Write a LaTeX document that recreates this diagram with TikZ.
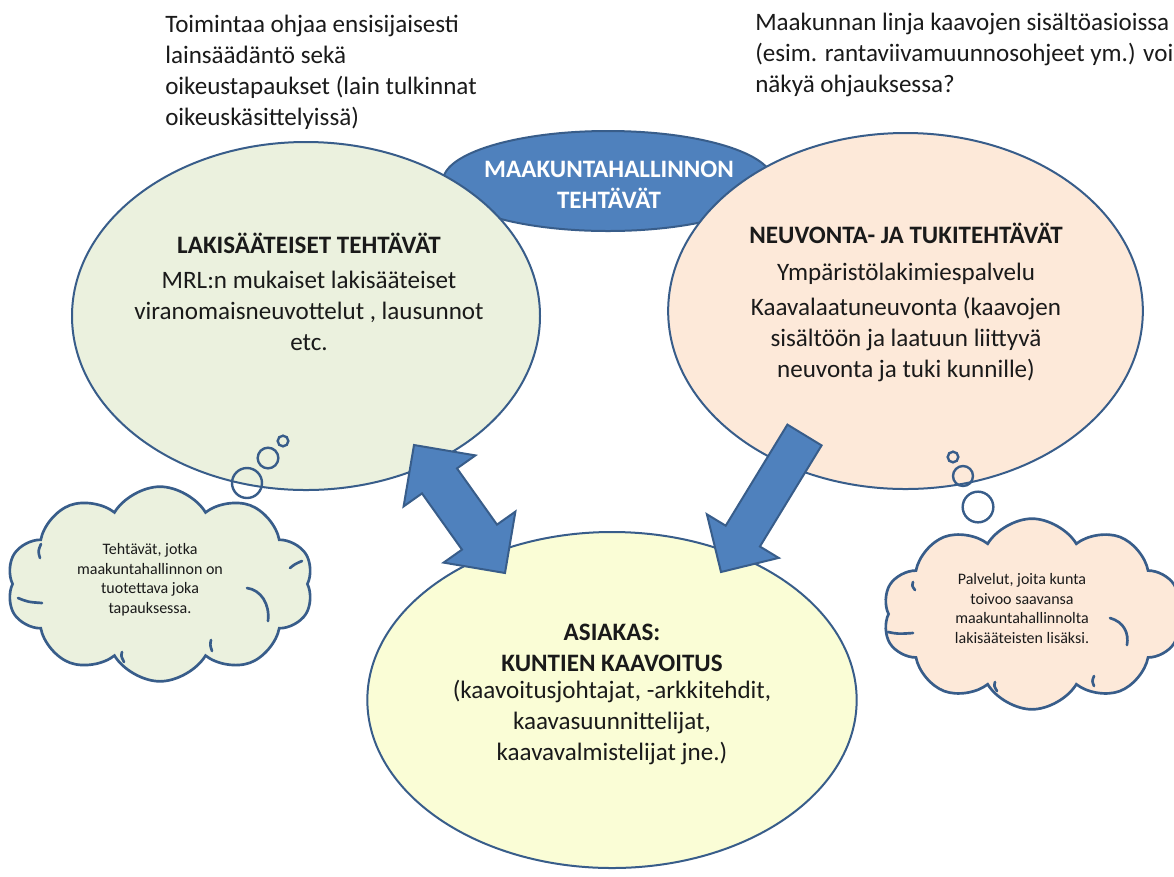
\documentclass[tikz,border=0pt]{standalone}
\usepackage{fontspec}
\setmainfont{Carlito}
\usetikzlibrary{shapes.geometric,shapes.symbols}
\definecolor{edge}{HTML}{385D8A}
\definecolor{blueF}{HTML}{4F81BD}
\definecolor{greenF}{HTML}{EBF1DE}
\definecolor{peachF}{HTML}{FDE9D9}
\definecolor{yellowF}{HTML}{FAFDD6}
\definecolor{ink}{HTML}{1A1A1A}
\begin{document}
\begin{tikzpicture}[x=0.75pt,y=-0.75pt,
  oval/.style={ellipse, draw=edge, line width=1.5pt, inner sep=0pt},
  thought/.style={cloud, cloud puffs=10, cloud puff arc=118, draw=edge, line width=2pt, inner sep=0pt},
  cloudarc/.style={draw=edge, line width=2pt, line cap=round},
  bubble/.style={circle, draw=edge, line width=1.8pt, inner sep=0pt},
  blockarrow/.style={fill=blueF, draw=edge, line width=1.5pt, line join=miter},
  big/.style={font=\fontsize{18.8}{23.2}\selectfont, text=ink, inner sep=0pt},
  bigc/.style={big, align=center, anchor=base},
  bigl/.style={big, align=left, anchor=base west},
  small/.style={font=\fontsize{12}{14.6}\selectfont, text=ink, inner sep=0pt, align=center, anchor=base}]
\clip (0,0) rectangle (1174,876);
\fill[white] (0,0) rectangle (1174,876);

% ellipses
\node[oval, fill=blueF, minimum width=247.5pt, minimum height=75pt] (top) at (608,181) {};
\node[oval, fill=greenF, minimum width=351pt, minimum height=261pt] (law) at (306,316) {};
\node[oval, fill=peachF, minimum width=356pt, minimum height=267pt] (adv) at (905.5,311) {};
\node[oval, fill=yellowF, minimum width=367pt, minimum height=252pt] (client) at (612,700) {};

% thought clouds
\node[thought, fill=greenF, minimum width=230pt, minimum height=146pt, aspect=1.7] (cl) at (160,584) {};
\node[thought, fill=peachF, minimum width=224pt, minimum height=143pt, aspect=1.7] (cr) at (1032,614) {};
% inner puff lines of the clouds
\draw[cloudarc] (247,588) .. controls (261,590) and (270,604) .. (268,621);
\draw[cloudarc] (18,598) .. controls (28,602) .. (42,603);
\draw[cloudarc] (40,558) .. controls (38,551) .. (41,544);
\draw[cloudarc] (122,652) .. controls (121,656) .. (124,662);
\draw[cloudarc] (211,640) .. controls (210,645) .. (212,651);
\draw[cloudarc] (290,568) .. controls (295,564) .. (302,561);
\draw[cloudarc] (1110,618) .. controls (1124,622) and (1129,633) .. (1127,645);
\draw[cloudarc] (888,632) .. controls (898,634) .. (913,633);
\draw[cloudarc] (913,582) .. controls (912,586) .. (915,590);
\draw[cloudarc] (995,682) .. controls (994,686) .. (997,691);
\draw[cloudarc] (1094,676) .. controls (1092,681) .. (1094,686);

% bubbles
\node[bubble, minimum size=22.5pt] (bl1) at (247,483) {};
\node[bubble, minimum size=15.5pt] (bl2) at (268,458) {};
\node[bubble, minimum size=8pt] (bl3) at (283,441) {};
\node[bubble, minimum size=8pt] (br3) at (953,457) {};
\node[bubble, minimum size=15pt] (br2) at (963,476) {};
\node[bubble, minimum size=23pt] (br1) at (978,507) {};

% block arrows
\coordinate (la1) at (414,445);
\coordinate (la2) at (475.4,455.4);
\coordinate (la3) at (457,468.4);
\coordinate (la4) at (497,524.6);
\coordinate (la5) at (515.4,511.6);
\coordinate (la6) at (505,573);
\coordinate (la7) at (443.6,562.6);
\coordinate (la8) at (462,549.6);
\coordinate (la9) at (422,493.4);
\coordinate (la10) at (403.6,506.4);
\draw[blockarrow] (la1) -- (la2) -- (la3) -- (la4) -- (la5) -- (la6) -- (la7) -- (la8) -- (la9) -- (la10) -- cycle;
\coordinate (ra1) at (787.4,424.6);
\coordinate (ra2) at (821.6,445.4);
\coordinate (ra3) at (759.9,546.5);
\coordinate (ra4) at (778.7,557.9);
\coordinate (ra5) at (721,572);
\coordinate (ra6) at (706.9,514.3);
\coordinate (ra7) at (725.7,525.7);
\draw[blockarrow] (ra1) -- (ra2) -- (ra3) -- (ra4) -- (ra5) -- (ra6) -- (ra7) -- cycle;

% texts (anchor = baseline of the last line)
\node[bigl] (noteL) at (165,125) {Toimintaa ohjaa ensisijaisesti\\lainsäädäntö sekä\\oikeustapaukset (lain tulkinnat\\oikeuskäsittelyissä)};
\node[bigl] (noteR) at (755,92) {Maakunnan linja kaavojen sisältöasioissa\\(esim. rantaviivamuunnosohjeet ym.) voi\\näkyä ohjauksessa?};
\node[bigc, text=white, font=\fontsize{18.8}{23.2}\selectfont\bfseries] (topT) at (609,208) {MAAKUNTAHALLINNON\\TEHTÄVÄT};
\node[bigc, font=\fontsize{18.8}{23.2}\selectfont\bfseries] (lawT) at (309,253) {LAKISÄÄTEISET TEHTÄVÄT};
\node[bigc] (lawB) at (309,350) {MRL:n mukaiset lakisääteiset\\viranomaisneuvottelut , lausunnot\\etc.};
\node[bigc, font=\fontsize{18.8}{23.2}\selectfont\bfseries] (advT) at (906,243) {NEUVONTA- JA TUKITEHTÄVÄT};
\node[bigc] (advA) at (906,280) {Ympäristölakimiespalvelu};
\node[bigc] (advB) at (906,377) {Kaavalaatuneuvonta (kaavojen\\sisältöön ja laatuun liittyvä\\neuvonta ja tuki kunnille)};
\node[bigc, font=\fontsize{18.8}{23.2}\selectfont\bfseries] (cliT) at (612,671) {ASIAKAS:\\KUNTIEN KAAVOITUS};
\node[bigc] (cliB) at (612,760) {(kaavoitusjohtajat, -arkkitehdit,\\kaavasuunnittelijat,\\kaavavalmistelijat jne.)};
\node[small] (clT) at (150,613) {Tehtävät, jotka\\maakuntahallinnon on\\tuotettava joka\\tapauksessa.};
\node[small] (crT) at (1022,643) {Palvelut, joita kunta\\toivoo saavansa\\maakuntahallinnolta\\lakisääteisten lisäksi.};
\end{tikzpicture}
\end{document}
